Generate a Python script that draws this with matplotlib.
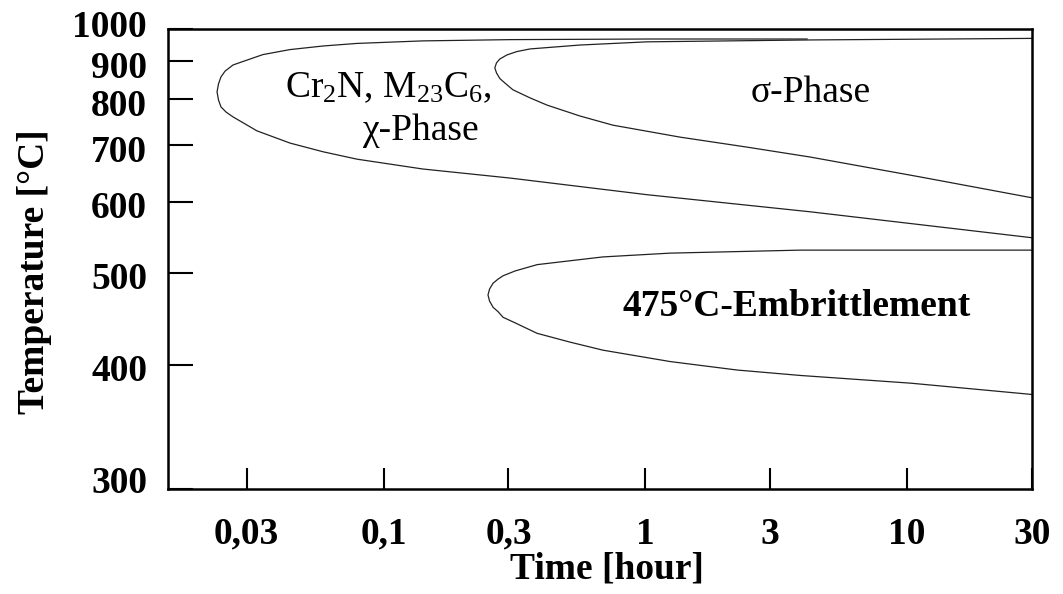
import matplotlib
matplotlib.use("Agg")
import matplotlib.pyplot as plt
import matplotlib.transforms as mtransforms
import numpy as np

plt.rcParams['font.family'] = ['Liberation Serif', 'DejaVu Serif']
plt.rcParams['mathtext.fontset'] = 'custom'
plt.rcParams['mathtext.rm'] = 'Liberation Serif'
plt.rcParams['mathtext.default'] = 'regular'

# C-curves (time in hours, temperature in degC),
# each traced from the upper right end, round the nose, to the lower right end
chi_t = [4.15, 1.04, 0.304, 0.141, 0.0791, 0.0587, 0.0439, 0.0346, 0.0301, 0.0266,
         0.0248, 0.0239, 0.0234, 0.0231, 0.0234, 0.0239, 0.0250, 0.0266, 0.0295,
         0.0328, 0.0439, 0.0587, 0.0791, 0.141, 0.304, 1.015, 4.26, 30]
chi_T = [967, 967, 965, 961, 953, 945, 934, 919, 903, 889,
         872, 856, 838, 818, 798, 782, 770, 759, 744,
         729, 704, 687, 673, 655, 639, 611, 584, 546]

sigma_t = [30, 4.26, 1.015, 0.563, 0.363, 0.323, 0.296, 0.278, 0.270, 0.266,
           0.270, 0.278, 0.291, 0.312, 0.363, 0.421, 0.563, 0.752, 1.357, 2.447,
           4.26, 11.2, 30]
sigma_T = [969, 964, 958, 948, 936, 928, 918, 906, 895, 881,
           867, 852, 840, 823, 803, 786, 761, 741, 716, 696,
           677, 641, 606]

emb_t = [30, 3.9, 1.243, 0.689, 0.516, 0.386, 0.318, 0.286, 0.274, 0.262, 0.254, 0.2505,
         0.254, 0.262, 0.274, 0.286, 0.318, 0.386, 0.516, 0.689, 1.243, 2.241, 3.9,
         10.3, 30]
emb_T = [529, 529, 525, 520, 515, 510, 502, 496, 492, 487, 480, 473,
         466, 459, 454, 448, 442, 431, 422, 414, 403, 395, 390,
         383, 373]

x_ticks = [0.03, 0.1, 0.3, 1, 3, 10, 30]
x_labels = ['0,03', '0,1', '0,3', '1', '3', '10', '30']
y_ticks = [300, 400, 500, 600, 700, 800, 900, 1000]


# temperature axis is drawn in 1/T (Kelvin)
def fwd(T):
    with np.errstate(divide='ignore', invalid='ignore'):
        return -1000.0 / (np.asarray(T, dtype=float) + 273.15)


def inv(u):
    with np.errstate(divide='ignore', invalid='ignore'):
        return -1000.0 / np.asarray(u, dtype=float) - 273.15


fig = plt.figure(figsize=(10.63, 5.94), dpi=100)
ax = fig.add_axes([0.158, 0.1768, 0.8128, 0.7744])

lc = '#222222'
ax.plot(chi_t, chi_T, color=lc, lw=0.9)
ax.plot(sigma_t, sigma_T, color=lc, lw=0.9)
ax.plot(emb_t, emb_T, color=lc, lw=0.9)

ax.set_xscale('log')
ax.set_yscale('function', functions=(fwd, inv))
ax.set_xlim(0.015, 30)
ax.set_ylim(300, 1000)

ax.set_xticks(x_ticks, x_labels)
ax.xaxis.set_minor_locator(matplotlib.ticker.NullLocator())
ax.set_yticks(y_ticks, [str(v) for v in y_ticks])
ax.yaxis.set_minor_locator(matplotlib.ticker.NullLocator())

ax.tick_params(axis='x', direction='in', length=15, width=1.5, pad=20,
               labelsize=27)
ax.tick_params(axis='y', direction='in', length=18, width=1.5, pad=15,
               labelsize=27)
for lab in ax.get_xticklabels() + ax.get_yticklabels():
    lab.set_fontweight('bold')

# the end labels sit a little inside the frame in the original
for tick, v in zip(ax.yaxis.get_major_ticks(), y_ticks):
    dy = {300: 9, 1000: 5}.get(v, -3)
    off = mtransforms.ScaledTranslation(0, dy / 100.0, fig.dpi_scale_trans)
    tick.label1.set_transform(tick.label1.get_transform() + off)

for s in ax.spines.values():
    s.set_linewidth(1.8)

ax.set_xlabel('Time [hour]', fontsize=27, fontweight='bold')
ax.set_ylabel('Temperature [°C]', fontsize=27, fontweight='bold')
ax.xaxis.set_label_coords(0.508, -0.135)
ax.yaxis.set_label_coords(-0.134, 0.472)

ax.text(0.2546, 0.872, r'Cr$_2$N, M$_{23}$C$_6$,', transform=ax.transAxes,
        ha='center', va='center', fontsize=27)
ax.text(0.2917, 0.778, 'χ-Phase', transform=ax.transAxes,
        ha='center', va='center', fontsize=27)
ax.text(0.744, 0.861, 'σ-Phase', transform=ax.transAxes,
        ha='center', va='center', fontsize=27)
ax.text(0.728, 0.396, '475°C-Embrittlement', transform=ax.transAxes,
        ha='center', va='center', fontsize=27, fontweight='bold')

fig.savefig('out.png', dpi=100)
